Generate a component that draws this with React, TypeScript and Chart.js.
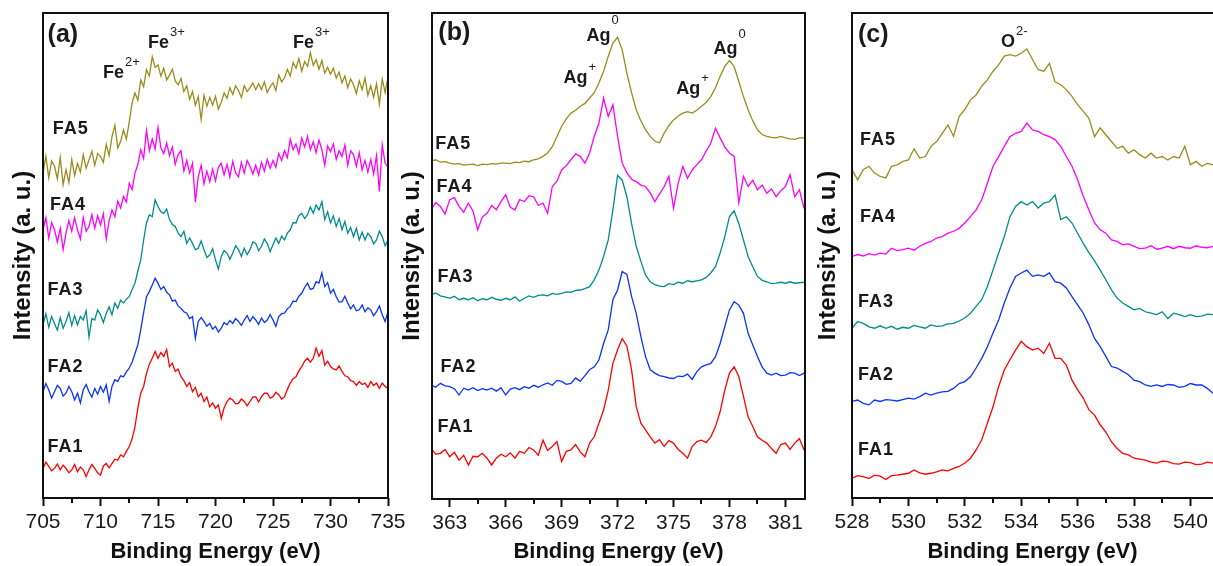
import React, { useEffect, useRef } from 'react';
import Chart from 'chart.js/auto';

const FONT = '"Liberation Sans", Arial, Helvetica, sans-serif';
const SERIES_NAMES = ['FA1', 'FA2', 'FA3', 'FA4', 'FA5'];
const COLORS = ['#ff0000', '#0a32ff', '#008c8c', '#ff00ff', '#9a8c1a'];
const X_TITLE = 'Binding Energy (eV)';
const Y_TITLE = 'Intensity (a. u.)';

const grid = (start: number, step: number, n: number) =>
  Array.from({ length: n }, (_, i) => Math.round((start + i * step) * 100) / 100);

// ---------- Panel (a): Fe 2p ----------
const energyA = grid(705, 0.25, 121);
const ticksA = [705, 710, 715, 720, 725, 730, 735];
const minorA = [707.5, 712.5, 717.5, 722.5, 727.5, 732.5];
const feFA1 = [
  6.1, 7.4, 6.5, 5.6, 6.1, 7.0, 5.8, 6.8, 6.1, 5.2, 5.8, 6.9, 5.4, 6.4, 5.8, 4.4,
  5.8, 6.9, 6.1, 5.2, 4.7, 6.6, 7.1, 6.2, 7.1, 8.0, 7.8, 8.9, 8.5, 9.6, 10.6, 12.2,
  14.7, 18.6, 21.6, 23.0, 25.7, 27.6, 28.8, 30.2, 28.8, 30.0, 29.2, 30.6, 27.1, 27.8, 26.1, 26.6,
  25.0, 24.2, 23.0, 23.8, 21.9, 22.8, 20.9, 21.6, 19.9, 20.8, 18.8, 19.6, 18.5, 19.2, 16.4, 18.6,
  19.9, 20.6, 20.2, 19.4, 19.5, 20.4, 19.9, 19.0, 19.9, 20.8, 20.9, 19.8, 20.9, 21.6, 21.6, 20.6,
  20.9, 21.8, 21.3, 20.4, 20.9, 22.4, 23.7, 24.6, 25.0, 26.2, 27.1, 28.2, 28.8, 28.0, 28.8, 30.9,
  29.2, 30.4, 27.4, 28.2, 27.1, 26.6, 26.4, 27.2, 26.1, 25.2, 25.0, 24.2, 24.0, 23.2, 24.0, 23.4,
  23.7, 22.8, 24.0, 23.2, 23.7, 22.6, 23.7, 23.0, 22.6,
];
const feFA2 = [
  21.9, 23.6, 22.3, 20.6, 21.9, 23.2, 22.6, 21.0, 21.6, 23.0, 21.9, 20.2, 21.6, 19.6, 22.3, 23.4,
  21.9, 20.8, 22.6, 21.4, 23.0, 21.8, 23.3, 19.9, 23.0, 24.4, 24.0, 25.2, 25.0, 26.0, 26.8, 28.0,
  29.8, 31.6, 34.7, 38.2, 41.5, 42.6, 43.9, 45.3, 44.3, 43.0, 43.6, 42.4, 41.9, 40.6, 40.8, 39.6,
  39.1, 38.4, 38.1, 37.0, 37.4, 32.9, 36.4, 37.2, 36.4, 35.4, 36.0, 34.8, 35.4, 34.2, 35.0, 36.2,
  35.7, 36.6, 36.0, 37.0, 36.4, 35.6, 36.7, 37.6, 36.4, 37.4, 36.7, 35.8, 37.1, 36.2, 36.7, 37.8,
  36.7, 35.4, 37.4, 38.0, 38.1, 39.0, 39.5, 40.6, 40.5, 41.6, 42.2, 43.4, 44.3, 43.0, 43.2, 44.6,
  44.3, 46.4, 43.6, 44.4, 42.2, 43.0, 41.5, 40.4, 40.5, 41.6, 40.2, 39.0, 39.8, 38.6, 38.8, 39.8,
  38.4, 39.2, 38.8, 37.6, 38.4, 39.6, 37.8, 36.4, 38.4,
];
const feFA3 = [
  35.7, 38.0, 35.2, 37.4, 36.0, 34.6, 37.2, 35.0, 36.4, 38.2, 35.6, 37.6, 35.7, 37.4, 36.7, 38.6,
  33.2, 37.0, 36.7, 38.8, 37.8, 36.2, 38.1, 39.4, 37.8, 40.2, 39.1, 40.8, 40.2, 41.0, 41.5, 43.0,
  44.3, 46.8, 49.1, 53.2, 56.7, 58.4, 58.0, 61.5, 60.1, 59.0, 58.7, 59.6, 57.4, 56.4, 56.0, 54.6,
  53.9, 55.0, 52.5, 53.6, 52.5, 51.2, 51.5, 53.0, 51.2, 49.6, 50.1, 51.4, 49.1, 47.2, 49.8, 51.0,
  50.5, 49.2, 50.5, 52.0, 51.2, 49.8, 51.5, 50.2, 51.2, 52.8, 52.5, 51.0, 51.9, 53.4, 52.5, 50.8,
  52.2, 53.6, 52.5, 54.0, 53.2, 54.6, 55.3, 56.8, 56.7, 58.2, 58.7, 57.6, 58.4, 60.0, 58.7, 60.4,
  59.4, 61.1, 57.4, 59.0, 56.7, 58.2, 56.0, 57.6, 55.3, 57.0, 54.6, 55.8, 53.9, 55.6, 53.2, 54.8,
  53.2, 54.6, 53.9, 52.4, 53.2, 55.0, 53.9, 52.0, 53.2,
];
const feFA4 = [
  55.3, 57.8, 53.6, 56.8, 55.3, 52.8, 55.6, 51.2, 54.6, 57.2, 55.0, 57.8, 55.3, 53.4, 57.8, 55.0,
  56.0, 58.4, 55.6, 58.2, 56.3, 58.6, 53.4, 57.2, 59.4, 58.0, 61.2, 59.8, 62.2, 61.0, 64.9, 63.6,
  67.0, 68.8, 71.8, 70.0, 75.8, 71.6, 74.0, 72.0, 76.4, 72.2, 71.0, 73.2, 70.6, 72.4, 68.8, 70.8,
  71.6, 67.4, 69.6, 67.0, 69.0, 61.0, 66.2, 68.6, 64.8, 67.4, 65.2, 67.8, 65.4, 68.2, 69.0, 66.6,
  68.8, 66.2, 69.4, 67.0, 66.2, 69.2, 67.0, 69.6, 68.4, 66.8, 68.6, 66.6, 69.2, 67.4, 69.8, 68.0,
  69.6, 68.2, 71.0, 69.6, 71.6, 70.2, 74.0, 71.8, 73.0, 71.0, 74.2, 72.4, 74.6, 71.8, 73.4, 71.2,
  73.8, 71.8, 68.6, 72.6, 71.4, 73.0, 69.8, 71.6, 70.4, 72.8, 68.6, 71.6, 70.8, 68.4, 71.2, 67.6,
  69.6, 67.2, 69.8, 66.8, 70.6, 63.2, 72.8, 69.0, 68.2,
];
const feFA5 = [
  67.0, 70.5, 66.0, 69.5, 68.4, 65.8, 70.2, 64.6, 67.7, 65.0, 69.8, 66.5, 69.0, 67.2, 70.8, 68.0,
  69.7, 71.5, 68.6, 71.0, 70.4, 69.2, 72.9, 70.6, 74.5, 76.8, 72.2, 73.5, 75.9, 74.0, 77.5, 81.5,
  83.5, 82.0, 86.2, 84.8, 88.3, 87.0, 91.0, 88.8, 89.3, 87.0, 88.6, 86.2, 87.2, 88.4, 86.0, 85.2,
  86.5, 83.8, 85.0, 82.2, 83.8, 81.0, 82.8, 78.0, 83.0, 80.8, 82.6, 81.0, 82.8, 80.2, 81.6, 83.5,
  82.4, 84.6, 83.2, 85.0, 84.0, 82.6, 85.0, 83.8, 84.6, 85.6, 84.2, 85.4, 84.2, 85.8, 83.6, 84.8,
  85.6, 84.0, 87.2, 85.8, 86.6, 88.4, 87.0, 89.8, 88.6, 90.6, 88.0, 90.0, 89.0, 91.8, 89.2, 90.4,
  88.4, 90.2, 87.6, 88.8, 87.4, 88.6, 86.6, 87.8, 85.6, 87.0, 84.6, 86.4, 85.2, 83.4, 86.0, 84.2,
  86.6, 83.0, 85.0, 82.6, 85.4, 81.2, 86.4, 83.6, 86.8,
];

// ---------- Panel (b): Ag 3d ----------
const energyB = grid(362, 0.25, 81);
const ticksB = [363, 366, 369, 372, 375, 378, 381];
const minorB = [364.5, 367.5, 370.5, 373.5, 376.5, 379.5];
const agFA1 = [
  10.4, 9.2, 9.4, 10.2, 8.7, 9.6, 8.0, 9.0, 7.0, 8.8, 8.7, 9.4, 8.4, 7.0, 8.4, 9.2,
  8.7, 9.5, 8.4, 9.8, 9.4, 10.6, 10.1, 9.0, 12.1, 10.0, 10.8, 11.8, 7.7, 9.8, 10.1, 11.2,
  9.7, 8.7, 11.5, 12.8, 15.6, 18.3, 22.4, 27.9, 30.7, 33.0, 31.5, 26.6, 19.0, 15.6, 14.2, 12.8,
  11.5, 12.2, 10.8, 12.0, 11.5, 10.2, 9.4, 8.4, 10.8, 11.8, 12.1, 11.6, 12.8, 14.9, 18.0, 22.4,
  25.9, 27.2, 25.2, 21.1, 16.9, 14.9, 12.8, 12.1, 11.5, 10.4, 9.4, 11.2, 11.5, 10.2, 11.5, 12.4,
  10.1,
];
const agFA2 = [
  23.5, 23.0, 23.8, 23.3, 23.1, 22.7, 21.4, 22.8, 22.4, 22.9, 22.3, 22.7, 22.4, 22.8, 22.2, 22.9,
  21.4, 22.6, 22.9, 22.5, 23.1, 22.8, 23.4, 23.0, 23.5, 23.9, 23.4, 24.4, 24.2, 23.6, 23.8, 24.9,
  24.2, 25.4, 26.6, 27.2, 28.6, 32.0, 34.8, 41.0, 43.0, 46.8, 46.2, 41.7, 38.2, 33.4, 29.3, 26.6,
  25.9, 25.4, 25.2, 24.9, 24.8, 25.3, 25.2, 25.7, 24.6, 26.2, 27.2, 27.6, 27.9, 29.3, 32.0, 35.5,
  38.9, 40.6, 39.9, 38.2, 34.1, 31.7, 29.3, 27.2, 25.9, 25.5, 25.9, 25.4, 25.5, 26.0, 25.9, 25.4,
  25.9,
];
const agFA3 = [
  42.0, 42.4, 41.8, 41.6, 41.3, 41.7, 41.0, 41.3, 41.0, 41.4, 40.8, 41.2, 41.0, 41.5, 41.1, 40.9,
  41.3, 41.0, 41.6, 40.7, 41.3, 41.8, 41.5, 41.9, 42.0, 41.8, 42.3, 42.1, 42.3, 42.6, 42.5, 42.9,
  43.0, 43.3, 43.7, 45.1, 47.1, 49.9, 53.3, 59.5, 66.6, 65.6, 62.2, 56.7, 52.0, 48.9, 46.1, 44.7,
  44.1, 43.8, 43.7, 44.3, 44.1, 44.6, 44.4, 44.9, 44.7, 44.9, 45.1, 45.6, 46.5, 47.8, 50.6, 54.0,
  58.1, 59.3, 56.7, 53.3, 49.9, 47.8, 45.8, 45.0, 44.7, 44.3, 44.4, 44.6, 44.4, 44.7, 44.4, 44.5,
  44.6,
];
const agFA4 = [
  59.5, 61.0, 60.2, 58.6, 61.6, 62.0, 60.2, 59.0, 60.9, 59.2, 55.4, 58.0, 58.8, 60.4, 59.5, 61.2,
  62.6, 60.0, 59.5, 61.6, 61.2, 62.4, 62.2, 60.4, 60.9, 58.8, 64.3, 65.4, 67.7, 68.6, 69.8, 71.0,
  70.5, 69.1, 71.2, 74.6, 77.3, 82.5, 78.7, 81.1, 74.6, 69.1, 67.1, 65.8, 65.3, 64.6, 64.3, 63.0,
  61.2, 62.8, 64.3, 66.4, 59.8, 65.0, 68.4, 66.0, 67.7, 68.8, 69.8, 71.6, 73.2, 76.3, 74.3, 72.4,
  71.2, 70.5, 61.0, 66.4, 64.3, 65.6, 63.6, 64.6, 62.9, 63.8, 62.2, 63.4, 64.3, 66.7, 62.2, 63.6,
  59.8,
];
const agFA5 = [
  69.5, 69.8, 69.3, 69.4, 69.1, 68.9, 69.0, 68.7, 68.8, 68.9, 68.6, 68.9, 68.8, 69.0, 68.9, 69.1,
  69.1, 69.0, 69.3, 69.2, 69.5, 69.4, 69.8, 70.0, 70.5, 71.2, 72.5, 74.6, 76.7, 78.2, 79.4, 80.0,
  80.8, 81.4, 82.5, 83.6, 85.6, 88.0, 91.1, 93.8, 95.0, 92.4, 87.6, 83.6, 80.1, 77.8, 76.0, 74.6,
  73.6, 73.3, 75.3, 76.8, 78.0, 78.8, 79.4, 79.7, 79.4, 80.0, 80.8, 81.6, 82.8, 84.6, 87.0, 89.0,
  90.2, 89.0, 85.9, 82.8, 80.1, 77.8, 76.0, 75.0, 74.6, 74.4, 74.3, 74.6, 74.3, 74.1, 74.0, 74.3,
  74.3,
];

// ---------- Panel (c): O 1s ----------
const energyC = grid(528, 0.2, 65);
const ticksC = [528, 530, 532, 534, 536, 538, 540];
const minorC = [529, 531, 533, 535, 537, 539];
const oFA1 = [
  4.1, 4.6, 4.4, 4.0, 4.7, 4.5, 3.8, 4.6, 4.7, 4.9, 5.1, 5.8, 5.2, 4.9, 5.1,
  5.4, 5.8, 5.6, 6.1, 6.5, 7.2, 8.2, 9.9, 12.0, 15.4, 18.8, 23.0, 26.4, 28.5, 30.5,
  32.3, 31.2, 30.5, 30.9, 29.8, 31.9, 28.8, 28.8, 27.4, 24.3, 22.3, 20.6, 18.2, 17.1, 15.1,
  13.6, 11.6, 10.2, 9.2, 8.9, 8.2, 8.0, 7.8, 7.4, 7.2, 7.6, 7.5, 7.1, 7.0, 7.4,
  7.3, 6.9, 7.0, 7.4, 7.2,
];
const oFA2 = [
  19.9, 20.2, 19.5, 19.2, 20.2, 19.9, 20.3, 20.2, 20.0, 20.3, 20.6, 20.4, 20.9, 21.6, 21.2,
  21.6, 21.9, 22.0, 22.6, 23.6, 24.0, 25.0, 26.8, 28.8, 31.2, 34.0, 36.7, 40.2, 43.3, 45.7,
  46.4, 47.0, 45.7, 46.0, 45.7, 46.4, 44.6, 44.3, 43.3, 41.5, 39.8, 38.1, 35.7, 32.9, 31.2,
  29.2, 27.1, 26.8, 26.1, 25.4, 24.3, 24.0, 23.3, 23.0, 23.3, 23.0, 23.4, 23.3, 22.8, 23.0,
  23.6, 23.3, 23.3, 22.6, 21.6,
];
const oFA3 = [
  35.0, 36.4, 36.0, 35.3, 35.0, 35.5, 35.0, 35.4, 34.8, 35.2, 35.0, 35.6, 35.3, 35.0, 35.7,
  35.4, 35.5, 35.9, 36.0, 36.5, 37.1, 38.1, 39.5, 40.9, 43.6, 47.0, 50.5, 53.9, 58.0, 60.1,
  61.1, 60.4, 61.1, 59.8, 60.8, 61.1, 62.5, 57.4, 58.0, 56.7, 54.6, 52.5, 50.6, 48.9, 47.0,
  45.0, 42.9, 41.2, 40.2, 39.5, 38.8, 39.1, 38.4, 38.1, 37.8, 38.4, 37.0, 38.1, 37.8, 37.4,
  37.8, 37.4, 37.5, 37.9, 37.8,
];
const oFA4 = [
  49.8, 50.2, 49.9, 50.4, 50.1, 50.5, 50.3, 51.5, 51.0, 51.2, 51.5, 51.1, 51.9, 52.5, 52.9,
  53.6, 53.9, 54.6, 55.0, 55.6, 56.7, 58.0, 59.4, 61.5, 64.9, 68.4, 70.4, 72.5, 74.5, 75.2,
  75.6, 77.3, 75.9, 75.6, 74.9, 74.5, 73.9, 72.5, 70.4, 68.4, 65.6, 62.2, 59.4, 56.7, 55.3,
  54.6, 53.2, 52.9, 52.2, 52.4, 51.9, 51.4, 51.5, 52.0, 51.3, 51.5, 51.9, 51.4, 51.9, 51.6,
  51.5, 52.0, 51.7, 51.6, 51.9,
];
const oFA5 = [
  67.7, 65.6, 67.7, 68.4, 67.0, 66.3, 66.0, 68.4, 68.7, 69.4, 69.7, 72.0, 70.1, 70.4, 72.5,
  73.5, 75.2, 76.9, 74.6, 78.7, 80.1, 82.1, 83.1, 84.9, 86.2, 88.0, 89.3, 91.1, 91.4, 91.1,
  91.7, 92.6, 90.4, 88.3, 88.0, 89.6, 85.8, 85.2, 84.2, 82.8, 81.1, 79.7, 78.3, 74.5, 76.3,
  74.9, 73.5, 72.1, 72.5, 71.1, 71.8, 70.8, 70.1, 71.1, 70.1, 70.4, 69.7, 70.4, 70.1, 72.5,
  68.7, 69.4, 68.4, 69.0, 68.7,
];

// label anchors, in data units (energy, intensity)
const faPosA: [number, number][] = [[705.4, 10.5], [705.4, 27.0], [705.4, 42.9], [705.6, 60.5], [705.84, 76.1]];
const faPosB: [number, number][] = [[362.34, 14.8], [362.5, 27.2], [362.34, 45.7], [362.29, 64.2], [362.23, 73.1]];
const faPosC: [number, number][] = [[528.21, 9.9], [528.21, 25.4], [528.21, 40.4], [528.28, 58.0], [528.28, 73.9]];

type Ion = { base: string; sup: string; x: number; y: number; dy: number };
const ionsA: Ion[] = [
  { base: 'Fe', sup: '2+', x: 710.22, y: 87.6, dy: -11 },
  { base: 'Fe', sup: '3+', x: 714.13, y: 93.8, dy: -11 },
  { base: 'Fe', sup: '3+', x: 726.74, y: 93.8, dy: -11 },
];
const ionsB: Ion[] = [
  { base: 'Ag', sup: '0', x: 370.33, y: 95.3, dy: -15 },
  { base: 'Ag', sup: '+', x: 369.1, y: 86.7, dy: -10 },
  { base: 'Ag', sup: '0', x: 377.14, y: 92.6, dy: -15 },
  { base: 'Ag', sup: '+', x: 375.15, y: 84.4, dy: -10 },
];
const ionsC: Ion[] = [{ base: 'O', sup: '2-', x: 533.28, y: 94.1, dy: -10 }];

type PanelCfg = {
  left: number; width: number; plotLeft: number; plotRight: number; plotTop: number; plotBottom: number;
  energy: number[]; series: number[][]; xMin: number; xMax: number; majors: number[]; minors: number[];
  tag: string; tagPos: [number, number]; faPos: [number, number][]; ions: Ion[]; yTitlePad: number; openRight?: boolean;
};

const PANELS: PanelCfg[] = [
  {
    left: 0, width: 410, plotLeft: 43, plotRight: 388, plotTop: 13, plotBottom: 498,
    energy: energyA, series: [feFA1, feFA2, feFA3, feFA4, feFA5], xMin: 705, xMax: 735,
    majors: ticksA, minors: minorA, tag: '(a)', tagPos: [705.4, 95.5], faPos: faPosA, ions: ionsA, yTitlePad: 9,
  },
  {
    left: 395, width: 425, plotLeft: 432, plotRight: 805, plotTop: 13, plotBottom: 499,
    energy: energyB, series: [agFA1, agFA2, agFA3, agFA4, agFA5], xMin: 362.05, xMax: 382.05,
    majors: ticksB, minors: minorB, tag: '(b)', tagPos: [362.39, 95.9], faPos: faPosB, ions: ionsB, yTitlePad: 3,
  },
  {
    left: 800, width: 413, plotLeft: 852, plotRight: 1213, plotTop: 13, plotBottom: 498,
    energy: energyC, series: [oFA1, oFA2, oFA3, oFA4, oFA5], xMin: 528, xMax: 540.8,
    majors: ticksC, minors: minorC, tag: '(c)', tagPos: [528.21, 95.5], faPos: faPosC, ions: ionsC, yTitlePad: 14, openRight: true,
  },
];

const H = 566;

function makeFramePlugin(cfg: PanelCfg) {
  return {
    id: 'frameAndLabels',
    afterDatasetsDraw(chart: any) {
      const { ctx, chartArea: a, scales } = chart;
      const x = scales.x;
      const y = scales.y;
      ctx.save();
      ctx.strokeStyle = '#111';
      ctx.lineWidth = 2;
      ctx.beginPath();
      if (cfg.openRight) {
        ctx.moveTo(a.right + 2, a.top);
        ctx.lineTo(a.left, a.top);
        ctx.lineTo(a.left, a.bottom);
        ctx.lineTo(a.right + 2, a.bottom);
      } else {
        ctx.rect(a.left, a.top, a.right - a.left, a.bottom - a.top);
      }
      ctx.stroke();
      ctx.beginPath();
      cfg.minors.forEach((v) => {
        const px = Math.round(x.getPixelForValue(v));
        ctx.moveTo(px, a.bottom);
        ctx.lineTo(px, a.bottom + 5);
      });
      ctx.stroke();

      ctx.fillStyle = '#1a1a1a';
      ctx.textBaseline = 'middle';
      ctx.textAlign = 'left';
      // panel tag
      ctx.font = `bold 25px ${FONT}`;
      ctx.fillText(cfg.tag, x.getPixelForValue(cfg.tagPos[0]), y.getPixelForValue(cfg.tagPos[1]));
      // series names
      ctx.font = `bold 18px ${FONT}`;
      (ctx as any).letterSpacing = '1px';
      cfg.faPos.forEach((p, i) => {
        ctx.fillText(SERIES_NAMES[i], x.getPixelForValue(p[0]), y.getPixelForValue(p[1]));
      });
      (ctx as any).letterSpacing = '0px';
      // ion annotations
      cfg.ions.forEach((ion) => {
        const px = x.getPixelForValue(ion.x);
        const py = y.getPixelForValue(ion.y);
        ctx.font = `bold 18px ${FONT}`;
        ctx.fillText(ion.base, px, py);
        const w = ctx.measureText(ion.base).width;
        ctx.font = `13px ${FONT}`;
        ctx.fillText(ion.sup, px + w + 1, py + ion.dy);
      });
      ctx.restore();
    },
  };
}

function Panel({ cfg }: { cfg: PanelCfg }) {
  const ref = useRef<HTMLCanvasElement | null>(null);
  useEffect(() => {
    if (!ref.current) return;
    const datasets = cfg.series.map((s, i) => ({
      label: SERIES_NAMES[i],
      data: cfg.energy.map((e, j) => ({ x: e, y: s[j] })),
      borderColor: COLORS[i],
      backgroundColor: COLORS[i],
      borderWidth: 1.3,
      pointRadius: 0,
      fill: false,
      tension: 0,
    }));
    const chart = new Chart(ref.current, {
      type: 'line',
      data: { datasets },
      options: {
        animation: false,
        responsive: false,
        devicePixelRatio: 1,
        events: [],
        layout: { padding: { left: 0, right: cfg.left + cfg.width - cfg.plotRight, top: cfg.plotTop, bottom: 0 } },
        plugins: { legend: { display: false }, tooltip: { enabled: false }, title: { display: false } },
        scales: {
          x: {
            type: 'linear',
            position: 'bottom',
            min: cfg.xMin,
            max: cfg.xMax,
            afterBuildTicks: (s: any) => {
              s.ticks = cfg.majors.map((v) => ({ value: v }));
            },
            afterFit: (s: any) => {
              s.height = H - cfg.plotBottom;
            },
            ticks: {
              autoSkip: false,
              maxRotation: 0,
              minRotation: 0,
              padding: 4,
              color: '#1a1a1a',
              font: { family: FONT, size: 21 },
              callback: (v: any) => String(v),
            },
            grid: {
              display: true,
              drawOnChartArea: false,
              drawTicks: true,
              tickLength: 8,
              tickWidth: 2,
              tickColor: '#111',
            },
            border: { display: false },
            title: {
              display: true,
              text: X_TITLE,
              color: '#111',
              font: { family: FONT, size: 22, weight: 'bold' },
              padding: { top: 0, bottom: 1 },
            },
          },
          y: {
            type: 'linear',
            position: 'left',
            min: 0,
            max: 100,
            afterFit: (s: any) => {
              s.width = cfg.plotLeft - cfg.left;
            },
            ticks: { display: false },
            grid: { display: false },
            border: { display: false },
            title: {
              display: true,
              text: Y_TITLE,
              color: '#111',
              font: { family: FONT, size: 24, weight: 'bold' },
              padding: { top: cfg.yTitlePad, bottom: 0 },
            },
          },
        },
      } as any,
      plugins: [makeFramePlugin(cfg)],
    });
    return () => chart.destroy();
  }, [cfg]);
  return (
    <canvas
      ref={ref}
      width={cfg.width}
      height={H}
      style={{ position: 'absolute', left: cfg.left, top: 0, width: cfg.width, height: H }}
    />
  );
}

export default function App() {
  return (
    <div
      style={{
        position: 'absolute',
        left: 0,
        top: 0,
        width: 1213,
        height: H,
        overflow: 'hidden',
        background: '#ffffff',
      }}
    >
      {PANELS.map((p, i) => (
        <Panel key={i} cfg={p} />
      ))}
    </div>
  );
}
